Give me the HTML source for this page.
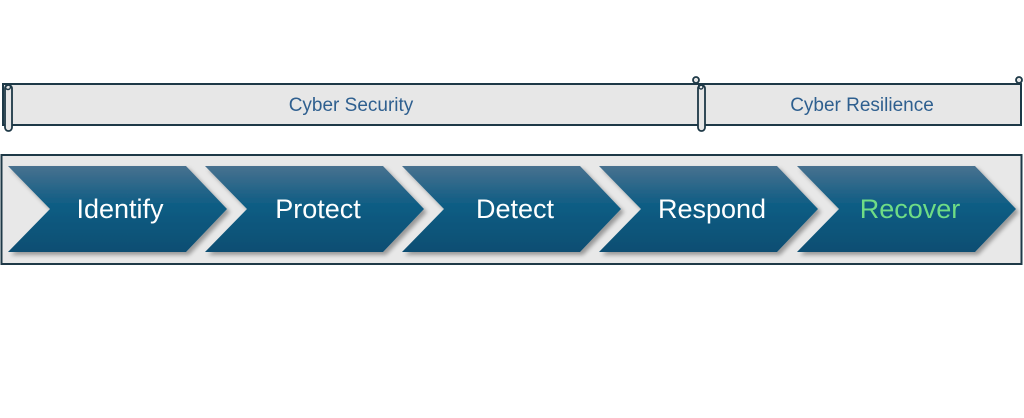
<!DOCTYPE html>
<html><head><meta charset="utf-8"><style>
html,body{margin:0;padding:0;background:#fff;}
svg{display:block}
text{font-family:"Liberation Sans",sans-serif;}
</style></head><body>
<svg width="1024" height="418" viewBox="0 0 1024 418" xmlns="http://www.w3.org/2000/svg">
<defs>
<linearGradient id="g" x1="0" y1="0" x2="0" y2="1">
<stop offset="0" stop-color="#48718f"/>
<stop offset="0.45" stop-color="#0f5d84"/>
<stop offset="1" stop-color="#0b4e72"/>
</linearGradient>
<filter id="s" x="-10%" y="-10%" width="130%" height="140%"><feDropShadow dx="3" dy="3" stdDeviation="2" flood-color="#000" flood-opacity="0.35"/></filter>
</defs>
<rect x="3" y="84" width="696" height="41" fill="#e7e7e7" stroke="#1e3947" stroke-width="2"/>
<rect x="5" y="85" width="7" height="46" rx="3.5" fill="#e7e7e7" stroke="#1e3947" stroke-width="1.8"/>
<circle cx="8" cy="87" r="2.5" fill="none" stroke="#1e3947" stroke-width="1.5"/>
<text x="351" y="111" font-size="19" fill="#2e5f8f" text-anchor="middle">Cyber Security</text>
<rect x="701" y="84" width="320" height="41" fill="#e7e7e7" stroke="#1e3947" stroke-width="2"/>
<circle cx="696" cy="80" r="3" fill="#e7e7e7" stroke="#1e3947" stroke-width="1.8"/>
<circle cx="1019" cy="80" r="3" fill="#e7e7e7" stroke="#1e3947" stroke-width="1.8"/>
<rect x="698" y="85" width="7" height="46" rx="3.5" fill="#e7e7e7" stroke="#1e3947" stroke-width="1.8"/>
<circle cx="701" cy="87" r="2" fill="none" stroke="#1e3947" stroke-width="1.4"/>
<text x="862" y="111" font-size="19" fill="#2e5f8f" text-anchor="middle">Cyber Resilience</text>
<rect x="1.5" y="155" width="1020" height="109" fill="#e8e8e8" stroke="#1e3947" stroke-width="2"/>
<g filter="url(#s)" fill="url(#g)">
<polygon points="8,166 186,166 227,209 186,252 8,252 50,209"/>
<polygon points="205,166 383,166 424,209 383,252 205,252 247,209"/>
<polygon points="402,166 580,166 621,209 580,252 402,252 444,209"/>
<polygon points="599,166 777,166 818,209 777,252 599,252 641,209"/>
<polygon points="797,166 975,166 1016,209 975,252 797,252 839,209"/>
</g>
<g font-size="27" fill="#fff" text-anchor="middle">
<text x="120" y="218">Identify</text>
<text x="318" y="218">Protect</text>
<text x="515" y="218">Detect</text>
<text x="712" y="218">Respond</text>
<text x="910" y="218" fill="#6fdc85">Recover</text>
</g>
</svg>
</body></html>
